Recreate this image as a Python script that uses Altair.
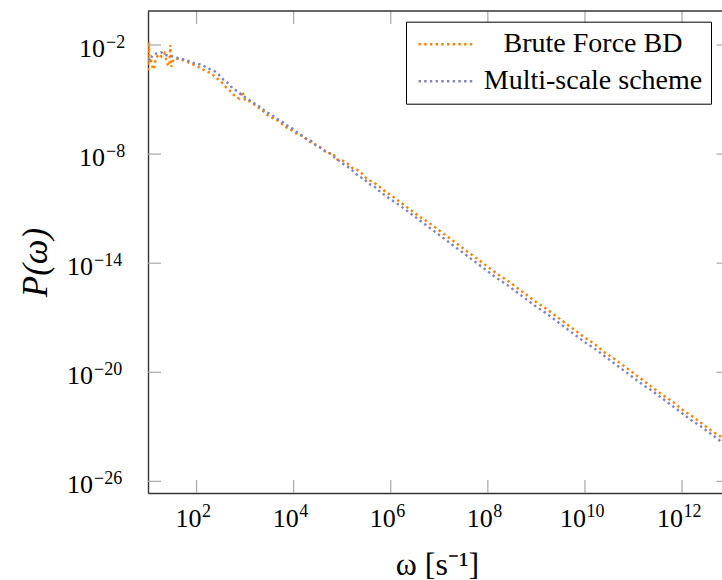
import altair as alt
import pandas as pd

# ---- data (log10 values) ----
brute_logw = [1.00, 1.01, 1.02, 1.03, 1.05, 1.08, 1.12, 1.16, 1.22, 1.28, 1.34, 1.40, 1.44, 1.46, 1.48,
              1.52, 1.58, 1.66, 1.74, 1.82, 1.90, 2.00, 2.10, 2.20, 2.30, 2.40, 2.50, 2.60, 2.70, 2.80,
              2.88, 2.94, 3.00, 3.10, 3.20, 3.30, 3.40, 3.50, 3.60, 3.70, 3.80, 3.90, 4.00,
              4.1, 4.2, 4.3, 4.4, 4.5, 4.6, 4.7, 4.8, 4.9, 5.0, 5.1, 5.2, 5.3, 5.4, 5.5, 5.6, 5.7, 5.8, 5.9,
              6.0, 6.2, 6.4, 6.6, 6.8, 7.0, 7.2, 7.4,
              7.6, 7.8, 8.0, 8.2, 8.4, 8.6, 8.8, 9.0, 9.2, 9.4, 9.6, 9.8, 10.0, 10.2, 10.4, 10.6,
              10.8, 11.0, 11.2, 11.4, 11.6, 11.8, 12.0, 12.2, 12.4, 12.6, 12.8, 12.83]
brute_logp = [-3.40, -2.60, -1.85, -3.00, -2.70, -3.15, -3.35, -2.75, -2.50, -2.65, -2.45, -3.05, -3.15, -2.00, -3.20,
              -2.80, -2.75, -2.80, -2.85, -2.95, -3.05, -3.15, -3.30, -3.45, -3.55, -3.80, -4.00, -4.30, -4.55, -4.85,
              -4.95, -4.55, -5.05, -5.10, -5.30, -5.50, -5.70, -5.95, -6.05, -6.20, -6.45, -6.60, -6.75,
              -6.95, -7.00, -7.30, -7.40, -7.55, -7.70, -7.95, -7.95, -8.30, -8.35, -8.50, -8.75, -8.85, -9.05, -9.35, -9.50, -9.65, -9.85, -10.10,
              -10.25, -10.65, -11.05, -11.45, -11.80, -12.20, -12.60, -13.00,
              -13.40, -13.80, -14.20, -14.60, -14.95, -15.35, -15.75, -16.15, -16.50, -16.90, -17.30, -17.70, -18.10, -18.45, -18.90, -19.25,
              -19.65, -20.05, -20.45, -20.85, -21.25, -21.60, -22.05, -22.40, -22.80, -23.20, -23.55, -23.65]

multi_logw = [1.00, 1.04, 1.08, 1.13, 1.20, 1.27, 1.35, 1.45, 1.55, 1.65, 1.75, 1.85, 1.95, 2.05, 2.15,
              2.25, 2.35, 2.45, 2.55, 2.65, 2.75, 2.85, 2.95, 3.05, 3.15, 3.25, 3.35, 3.45, 3.55, 3.65,
              3.75, 3.85, 3.95, 4.05,
              4.15, 4.25, 4.35, 4.45, 4.55, 4.65, 4.75, 4.85, 4.95, 5.05, 5.15, 5.25, 5.35, 5.45, 5.55, 5.65, 5.75, 5.85, 5.95,
              6.0, 6.2, 6.4, 6.6, 6.8, 7.0, 7.2, 7.4,
              7.6, 7.8, 8.0, 8.2, 8.4, 8.6, 8.8, 9.0, 9.2, 9.4, 9.6, 9.8, 10.0, 10.2, 10.4, 10.6,
              10.8, 11.0, 11.2, 11.4, 11.6, 11.8, 12.0, 12.2, 12.4, 12.6, 12.8, 12.83]
multi_logp = [-2.85, -2.60, -2.65, -2.50, -2.45, -2.40, -2.55, -2.60, -2.65, -2.75, -2.80, -2.90, -3.00, -3.05, -3.15,
              -3.30, -3.40, -3.60, -3.90, -4.10, -4.40, -4.55, -4.80, -4.95, -5.15, -5.30, -5.50, -5.70, -5.85, -6.05,
              -6.20, -6.40, -6.55, -6.75,
              -6.95, -7.15, -7.25, -7.50, -7.65, -7.85, -7.95, -8.20, -8.40, -8.60, -8.75, -9.00, -9.25, -9.35, -9.65, -9.75, -10.00, -10.20, -10.40,
              -10.50, -10.85, -11.25, -11.65, -12.05, -12.45, -12.85, -13.25,
              -13.65, -14.05, -14.45, -14.85, -15.20, -15.60, -16.00, -16.40, -16.75, -17.15, -17.55, -17.95, -18.35, -18.70, -19.10, -19.50,
              -19.90, -20.30, -20.70, -21.05, -21.45, -21.85, -22.25, -22.65, -23.00, -23.40, -23.80, -23.85]

series_names = ["Brute Force BD", "Multi-scale scheme"]
series_colors = ["#ff8000", "#8282c0"]

x_tick_exp = [2, 4, 6, 8, 10, 12]
y_tick_exp = [-2, -8, -14, -20, -26]
x_domain_exp = [1.0, 12.823]
y_domain_exp = [-26.64, -0.13]

# ---- build tables ----
rows = []
for name, lw, lp in [(series_names[0], brute_logw, brute_logp), (series_names[1], multi_logw, multi_logp)]:
    for a, b in zip(lw, lp):
        rows.append({"series": name, "omega": 10.0 ** a, "P": 10.0 ** b})
df = pd.DataFrame(rows)

xt = pd.DataFrame({"v": [10.0 ** e for e in x_tick_exp],
                   "n": x_tick_exp,
                   "base": ["10"] * len(x_tick_exp),
                   "e": [str(e) for e in x_tick_exp]})
yt = pd.DataFrame({"v": [10.0 ** e for e in y_tick_exp],
                   "n": y_tick_exp,
                   "base": ["10"] * len(y_tick_exp),
                   "e": [str(e).replace("-", "\u2212") for e in y_tick_exp]})

W, H = 574, 482
FONT = "Liberation Serif"
TICK = "#a8a8a8"
BORDER = "#333333"
TL = 13
LBL = 26
EXP = 18

xscale = alt.Scale(type="log", domain=[10.0 ** x_domain_exp[0], 10.0 ** x_domain_exp[1]], nice=False)
yscale = alt.Scale(type="log", domain=[10.0 ** y_domain_exp[0], 10.0 ** y_domain_exp[1]], nice=False)

xaxis = alt.Axis(values=[10.0 ** e for e in x_tick_exp], labels=False,
                 title="ω [s⁻¹]", titleFont=FONT, titleFontSize=32, titleFontWeight="normal",
                 titleX=289, titleY=71, titleBaseline="middle", titleAlign="center",
                 ticks=False, tickSize=0, grid=False, domain=True)
yaxis = alt.Axis(values=[10.0 ** e for e in y_tick_exp], labels=False,
                 title="P(ω)", titleFont=FONT, titleFontSize=35, titleFontWeight="normal",
                 titleFontStyle="italic", titleX=-113, titleY=251, titleAngle=-90,
                 titleBaseline="middle", titleAlign="center",
                 ticks=False, tickSize=0, grid=False, domain=True)

X = lambda: alt.X("v:Q", scale=xscale, axis=xaxis)
Y = lambda: alt.Y("v:Q", scale=yscale, axis=yaxis)

lines = alt.Chart(df).mark_line(strokeWidth=2.4, strokeDash=[2.4, 3.3], clip=True).encode(
    x=alt.X("omega:Q", scale=xscale, axis=xaxis),
    y=alt.Y("P:Q", scale=yscale, axis=yaxis),
    color=alt.Color("series:N", scale=alt.Scale(domain=series_names, range=series_colors),
                    sort=series_names,
                    legend=alt.Legend(title=None, orient="none", legendX=258, legendY=10.7,
                                      padding=8, rowPadding=8, fillColor="white", strokeColor="black",
                                      symbolType="M-0.77,0H3.38", symbolSize=676, symbolStrokeWidth=2.4,
                                      symbolDash=[2.4, 3.3], symbolFillColor="transparent",
                                      labelFont=FONT, labelFontSize=28, labelAlign="center",
                                      labelOffset=150, labelLimit=500)),
    order=alt.Order("omega:Q"),
)

# inward ticks on all four sides
tick_bottom = alt.Chart(xt).mark_rule(color=TICK, strokeWidth=1.2).encode(
    x=X(), y=alt.value(H), y2=alt.value(H - TL))
tick_top = alt.Chart(xt).mark_rule(color=TICK, strokeWidth=1.2).encode(
    x=X(), y=alt.value(0), y2=alt.value(TL))
tick_left = alt.Chart(yt).mark_rule(color=TICK, strokeWidth=1.2).encode(
    y=Y(), x=alt.value(0), x2=alt.value(TL))
tick_right = alt.Chart(yt).mark_rule(color=TICK, strokeWidth=1.2).encode(
    y=Y(), x=alt.value(W - 5.5), x2=alt.value(W))
top_border = alt.Chart(pd.DataFrame({"a": [0]})).mark_rule(color=BORDER, strokeWidth=1.4).encode(
    x=alt.value(0), x2=alt.value(W), y=alt.value(0))

# tick labels as "10" with a raised exponent
layers = [lines, tick_bottom, tick_top, tick_left, tick_right, top_border]
for cond, dx in [("abs(datum.n) < 10", 5), ("abs(datum.n) >= 10", 1)]:
    layers.append(alt.Chart(xt).transform_filter(cond).mark_text(
        align="right", baseline="alphabetic", font=FONT, fontSize=LBL, dx=dx, color="black").encode(
        x=X(), y=alt.value(H + 34), text="base:N"))
    layers.append(alt.Chart(xt).transform_filter(cond).mark_text(
        align="left", baseline="alphabetic", font=FONT, fontSize=EXP, dx=dx + 0.5, color="black").encode(
        x=X(), y=alt.value(H + 24), text="e:N"))
for cond, xr in [("abs(datum.n) < 10", -43), ("abs(datum.n) >= 10", -55)]:
    layers.append(alt.Chart(yt).transform_filter(cond).mark_text(
        align="right", baseline="alphabetic", font=FONT, fontSize=LBL, dy=12, color="black").encode(
        y=Y(), x=alt.value(xr), text="base:N"))
    layers.append(alt.Chart(yt).transform_filter(cond).mark_text(
        align="left", baseline="alphabetic", font=FONT, fontSize=EXP, dy=3, color="black").encode(
        y=Y(), x=alt.value(xr + 1), text="e:N"))

chart = alt.layer(*layers).properties(
    width=W, height=H,
    autosize=alt.AutoSizeParams(type="none"),
    padding={"left": 148, "top": 11, "right": 0, "bottom": 87},
    background="white",
).configure_view(stroke=None).configure_axis(
    domainColor=BORDER, domainWidth=1.4, titleColor="black",
)

chart.save("out.html", embed_options={"renderer": "svg", "actions": False})
